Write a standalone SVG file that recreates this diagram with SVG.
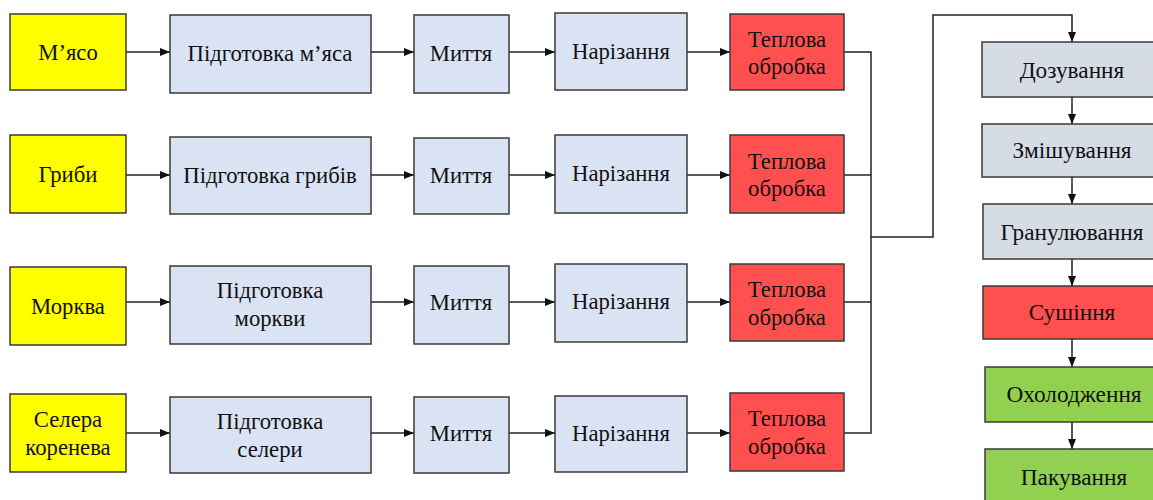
<svg xmlns="http://www.w3.org/2000/svg" width="1153" height="500" viewBox="0 0 1153 500">
<defs>
<marker id="ah" markerWidth="10" markerHeight="8" refX="10" refY="4" orient="auto" markerUnits="userSpaceOnUse">
<path d="M0,0 L10,4 L0,8 Z" fill="#111"/>
</marker>
<style>
.b{stroke:#3a3a3a;stroke-width:1.5}
.y{fill:#FFFF00}
.l{fill:#DAE3F3}
.r{fill:#FF5050}
.g{fill:#D6DCE5}
.gr{fill:#92D050}
text{font-family:"Liberation Serif","Times New Roman",serif;font-size:22.7px;fill:#111;text-anchor:middle}
.rc text{font-size:23.3px}
.c{fill:none;stroke:#222;stroke-width:1.5}
</style>
</defs>
<rect width="1153" height="500" fill="#fff"/>

<g id="connectors">
<path class="c" d="M126,52 H170" marker-end="url(#ah)"/>
<path class="c" d="M371,52 H414" marker-end="url(#ah)"/>
<path class="c" d="M509,52 H555" marker-end="url(#ah)"/>
<path class="c" d="M687,52 H730" marker-end="url(#ah)"/>

<path class="c" d="M126,175 H170" marker-end="url(#ah)"/>
<path class="c" d="M371,175 H414" marker-end="url(#ah)"/>
<path class="c" d="M509,175 H555" marker-end="url(#ah)"/>
<path class="c" d="M687,175 H730" marker-end="url(#ah)"/>

<path class="c" d="M126,302 H170" marker-end="url(#ah)"/>
<path class="c" d="M371,302 H414" marker-end="url(#ah)"/>
<path class="c" d="M509,302 H555" marker-end="url(#ah)"/>
<path class="c" d="M687,302 H730" marker-end="url(#ah)"/>

<path class="c" d="M126,433 H170" marker-end="url(#ah)"/>
<path class="c" d="M371,433 H414" marker-end="url(#ah)"/>
<path class="c" d="M509,433 H555" marker-end="url(#ah)"/>
<path class="c" d="M687,433 H730" marker-end="url(#ah)"/>

<path class="c" d="M844,52 H871 V433 H844"/>
<path class="c" d="M844,175 H871"/>
<path class="c" d="M844,302 H871"/>
<path class="c" d="M871,237 H933 V15 H1072 V42" marker-end="url(#ah)"/>

<path class="c" d="M1072,97 V124" marker-end="url(#ah)"/>
<path class="c" d="M1072,177 V204" marker-end="url(#ah)"/>
<path class="c" d="M1072,259 V286" marker-end="url(#ah)"/>
<path class="c" d="M1072,339 V367" marker-end="url(#ah)"/>
<path class="c" d="M1072,422 V449" marker-end="url(#ah)"/>
</g>

<g id="n-meat"><rect class="b y" x="10" y="14" width="116" height="76"/><text x="68" y="60">М’ясо</text></g>
<g id="n-prep-meat"><rect class="b l" x="170" y="15" width="201" height="78"/><text x="270" y="61">Підготовка м’яса</text></g>
<g id="n-wash1"><rect class="b l" x="414" y="15" width="95" height="78"/><text x="461" y="61">Миття</text></g>
<g id="n-cut1"><rect class="b l" x="555" y="13" width="132" height="77"/><text x="621" y="59">Нарізання</text></g>
<g id="n-heat1"><rect class="b r" x="730" y="14" width="114" height="76"/><text x="787" y="47">Теплова</text><text x="787" y="74">обробка</text></g>

<g id="n-mush"><rect class="b y" x="10" y="135" width="116" height="78"/><text x="68" y="182">Гриби</text></g>
<g id="n-prep-mush"><rect class="b l" x="170" y="137" width="201" height="77"/><text x="270" y="183">Підготовка грибів</text></g>
<g id="n-wash2"><rect class="b l" x="414" y="138" width="95" height="76"/><text x="461" y="183">Миття</text></g>
<g id="n-cut2"><rect class="b l" x="555" y="135" width="132" height="78"/><text x="621" y="181">Нарізання</text></g>
<g id="n-heat2"><rect class="b r" x="730" y="135" width="114" height="78"/><text x="787" y="169">Теплова</text><text x="787" y="196">обробка</text></g>

<g id="n-carrot"><rect class="b y" x="10" y="267" width="116" height="78"/><text x="68" y="314">Морква</text></g>
<g id="n-prep-carrot"><rect class="b l" x="170" y="266" width="201" height="78"/><text x="270" y="298">Підготовка</text><text x="270" y="326">моркви</text></g>
<g id="n-wash3"><rect class="b l" x="414" y="266" width="95" height="78"/><text x="461" y="310">Миття</text></g>
<g id="n-cut3"><rect class="b l" x="555" y="264" width="132" height="78"/><text x="621" y="309">Нарізання</text></g>
<g id="n-heat3"><rect class="b r" x="730" y="264" width="114" height="77"/><text x="787" y="297">Теплова</text><text x="787" y="325">обробка</text></g>

<g id="n-celery"><rect class="b y" x="10" y="394" width="116" height="78"/><text x="68" y="427">Селера</text><text x="68" y="455">коренева</text></g>
<g id="n-prep-celery"><rect class="b l" x="170" y="397" width="201" height="76"/><text x="270" y="429">Підготовка</text><text x="270" y="457">селери</text></g>
<g id="n-wash4"><rect class="b l" x="414" y="397" width="95" height="76"/><text x="461" y="441">Миття</text></g>
<g id="n-cut4"><rect class="b l" x="555" y="396" width="132" height="76"/><text x="621" y="441">Нарізання</text></g>
<g id="n-heat4"><rect class="b r" x="730" y="393" width="114" height="78"/><text x="787" y="426">Теплова</text><text x="787" y="454">обробка</text></g>

<g class="rc">
<g id="n-dose"><rect class="b g" x="982" y="42" width="182" height="55"/><text x="1072" y="78">Дозування</text></g>
<g id="n-mix"><rect class="b g" x="982" y="124" width="182" height="53"/><text x="1072" y="158">Змішування</text></g>
<g id="n-gran"><rect class="b g" x="983" y="204" width="182" height="55"/><text x="1072" y="240">Гранулювання</text></g>
<g id="n-dry"><rect class="b r" x="983" y="286" width="182" height="53"/><text x="1072" y="320">Сушіння</text></g>
<g id="n-cool"><rect class="b gr" x="985" y="367" width="182" height="55"/><text x="1074" y="402">Охолодження</text></g>
<g id="n-pack"><rect class="b gr" x="985" y="449" width="182" height="60"/><text x="1074" y="485">Пакування</text></g>
</g>
</svg>
